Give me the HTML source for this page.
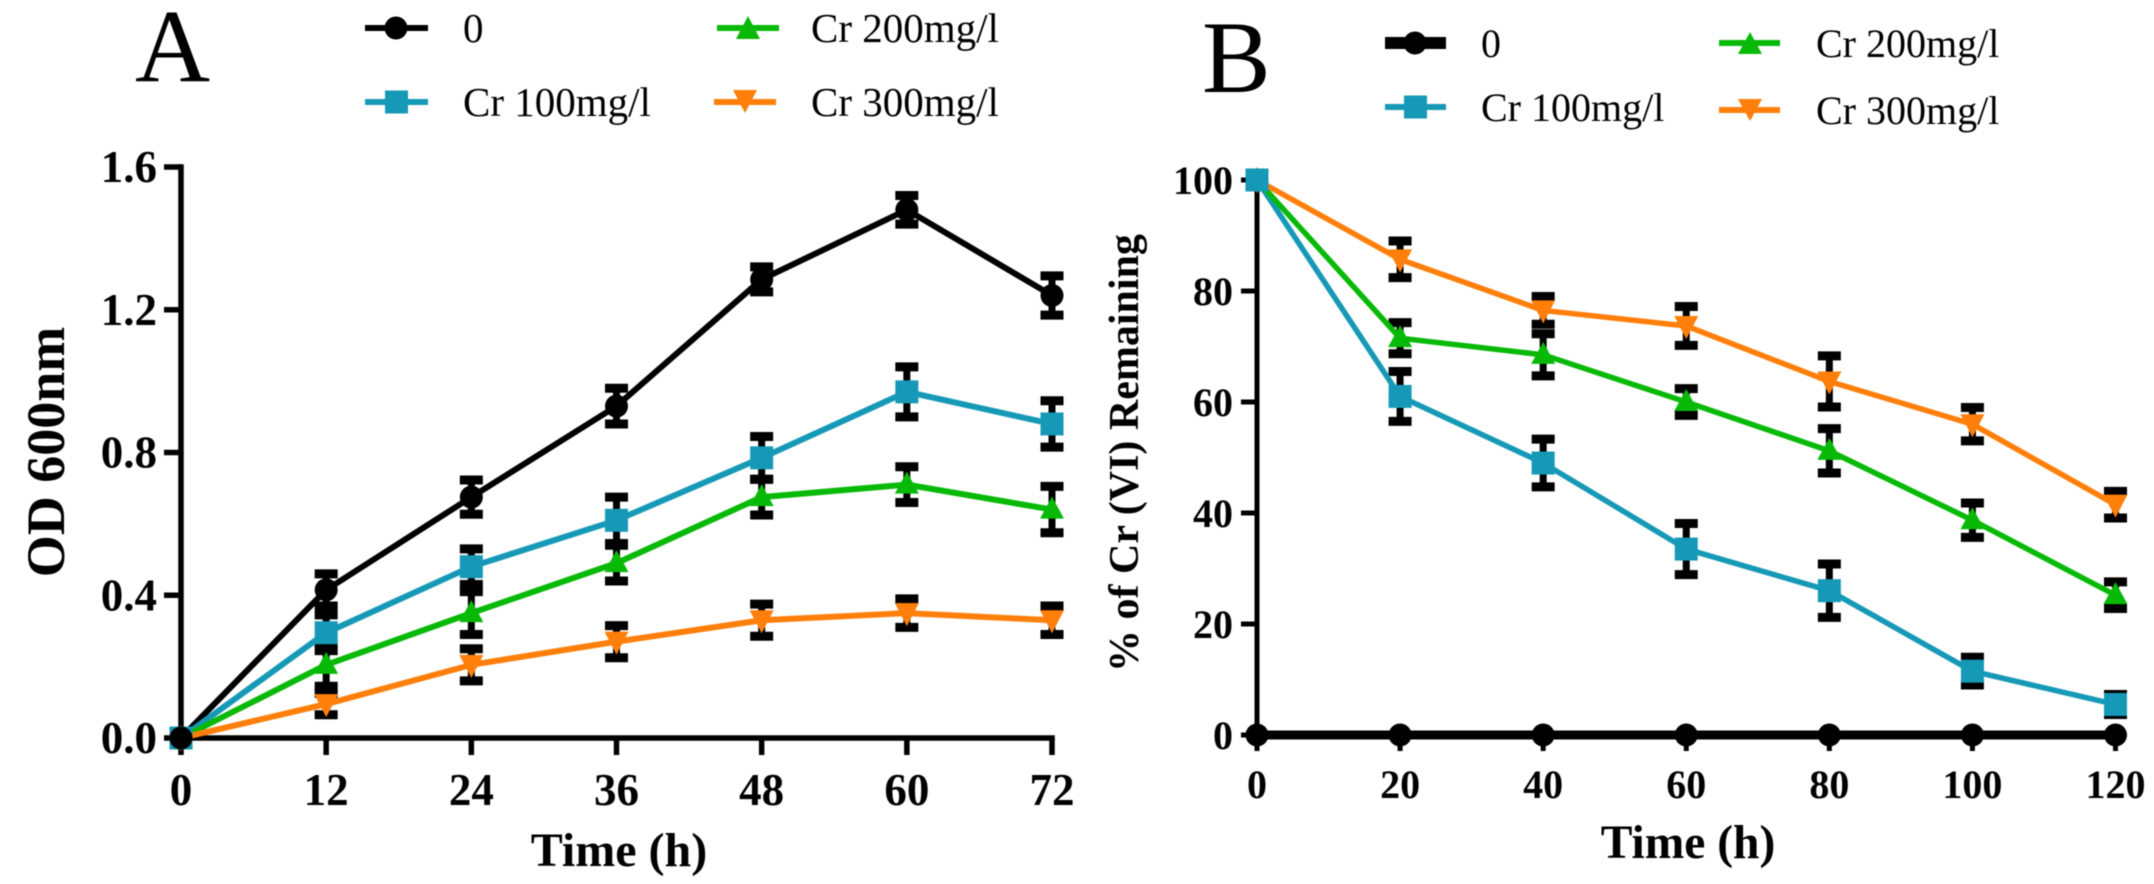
<!DOCTYPE html>
<html lang="en">
<head>
<meta charset="utf-8">
<title>Growth and Cr (VI) remaining charts</title>
<style>
html,body{margin:0;padding:0;background:#fff;width:2154px;height:884px;overflow:hidden}
svg{display:block;filter:blur(0.5px)}
text{font-family:"Liberation Serif",serif;fill:#000}
.tick{font-weight:bold}
.title{font-weight:bold}
</style>
</head>
<body>
<svg id="chart" xmlns="http://www.w3.org/2000/svg" width="2154" height="884" viewBox="0 0 2154 884">
<rect width="2154" height="884" fill="#fff"/>
<text x="135" y="81" font-size="104">A</text>
<text x="1202" y="92" font-size="103">B</text>

<text class="title" x="619" y="866" font-size="48" text-anchor="middle">Time (h)</text>
<text class="title" transform="translate(64,452) rotate(-90)" font-size="54" text-anchor="middle">OD 600nm</text>
<text class="title" x="1688" y="858" font-size="47.5" text-anchor="middle">Time (h)</text>
<text class="title" transform="translate(1138,453) rotate(-90)" font-size="42" text-anchor="middle">% of Cr (VI) Remaining</text>

<g>
  <g>
    <line x1="365" y1="28" x2="428" y2="28" stroke="#000" stroke-width="6"/>
    <circle cx="396" cy="28" r="11.5" fill="#000"/>
    <text x="463" y="42" font-size="41">0</text>
  </g>
  <g>
    <line x1="365" y1="102" x2="428" y2="102" stroke="#1699b6" stroke-width="6"/>
    <rect x="385" y="90.5" width="23" height="23" fill="#1699b6"/>
    <text x="463" y="116" font-size="41">Cr 100mg/l</text>
  </g>
  <g>
    <line x1="717" y1="28" x2="779" y2="28" stroke="#08b908" stroke-width="6"/>
    <polygon points="748,16 760,39 736,39" fill="#08b908"/>
    <text x="811" y="42" font-size="41">Cr 200mg/l</text>
  </g>
  <g>
    <line x1="714" y1="102" x2="776" y2="102" stroke="#ff7f0a" stroke-width="6"/>
    <polygon points="733,90 757,90 745,113" fill="#ff7f0a"/>
    <text x="811" y="116" font-size="41">Cr 300mg/l</text>
  </g>
</g>

<g>
  <g>
    <line x1="1385" y1="43" x2="1446" y2="43" stroke="#000" stroke-width="12"/>
    <circle cx="1415" cy="43" r="11.5" fill="#000"/>
    <text x="1481" y="57" font-size="40">0</text>
  </g>
  <g>
    <line x1="1385" y1="107" x2="1446" y2="107" stroke="#1699b6" stroke-width="6"/>
    <rect x="1404" y="95.5" width="23" height="23" fill="#1699b6"/>
    <text x="1481" y="121" font-size="40">Cr 100mg/l</text>
  </g>
  <g>
    <line x1="1719" y1="43" x2="1780" y2="43" stroke="#08b908" stroke-width="6"/>
    <polygon points="1750,32 1762,54 1738,54" fill="#08b908"/>
    <text x="1816" y="57" font-size="40">Cr 200mg/l</text>
  </g>
  <g>
    <line x1="1719" y1="110" x2="1780" y2="110" stroke="#ff7f0a" stroke-width="6"/>
    <polygon points="1738,99 1762,99 1750,121" fill="#ff7f0a"/>
    <text x="1816" y="124" font-size="40">Cr 300mg/l</text>
  </g>
</g>
</svg>

<script>
// Panel A data
const timeA = [0, 12, 24, 36, 48, 60, 72];
const xTicksA = ["0", "12", "24", "36", "48", "60", "72"];
const yTicksA = ["0.0", "0.4", "0.8", "1.2", "1.6"];
const odControl = [0, 0.415, 0.675, 0.93, 1.285, 1.48, 1.24];
const odControlErr = [0, 0.045, 0.048, 0.05, 0.035, 0.04, 0.055];
const odCr100 = [0, 0.295, 0.48, 0.61, 0.785, 0.97, 0.88];
const odCr100Err = [0, 0.05, 0.05, 0.065, 0.06, 0.07, 0.065];
const odCr200 = [0, 0.205, 0.35, 0.49, 0.675, 0.71, 0.64];
const odCr200Err = [0, 0.06, 0.06, 0.05, 0.05, 0.05, 0.065];
const odCr300 = [0, 0.095, 0.205, 0.27, 0.33, 0.35, 0.33];
const odCr300Err = [0, 0.03, 0.045, 0.045, 0.045, 0.04, 0.04];

// Panel B data
const timeB = [0, 20, 40, 60, 80, 100, 120];
const xTicksB = ["0", "20", "40", "60", "80", "100", "120"];
const yTicksB = ["0", "20", "40", "60", "80", "100"];
const remControl = [0, 0, 0, 0, 0, 0, 0];
const remControlErr = [0, 0, 0, 0, 0, 0, 0];
const remCr100 = [100, 61, 49, 33.5, 26, 11.5, 5.5];
const remCr100Err = [0, 4.5, 4.3, 4.6, 4.8, 2.5, 1.8];
const remCr200 = [100, 71.5, 68.5, 60, 51.2, 38.7, 25.2];
const remCr200Err = [0, 2.8, 3.8, 2.4, 4, 3.1, 2.4];
const remCr300 = [100, 85.7, 76.5, 73.7, 63.7, 56, 41.5];
const remCr300Err = [0, 3.3, 2.5, 3.5, 4.6, 3, 2.4];

const seriesNames = ["control", "cr-100", "cr-200", "cr-300"];
const seriesColors = ["#000000", "#1699b6", "#08b908", "#ff7f0a"];
const seriesShapes = ["circle", "square", "up", "down"];

const NS = "http://www.w3.org/2000/svg";
const svg = document.getElementById("chart");

function mk(parent, tag, attrs) {
  const el = document.createElementNS(NS, tag);
  for (const k in attrs) el.setAttribute(k, attrs[k]);
  parent.appendChild(el);
  return el;
}

function drawMarker(parent, shape, cx, cy, color, prefix) {
  let m;
  if (shape === "circle") {
    m = mk(parent, "circle", {cx: cx, cy: cy, r: 11.5, fill: color});
  } else if (shape === "square") {
    m = mk(parent, "rect", {x: cx - 11.5, y: cy - 11.5, width: 23, height: 23, fill: color});
  } else if (shape === "up") {
    m = mk(parent, "polygon", {points: (cx) + "," + (cy - 13) + " " + (cx + 12) + "," + (cy + 9) + " " + (cx - 12) + "," + (cy + 9), fill: color});
  } else {
    m = mk(parent, "polygon", {points: (cx - 12) + "," + (cy - 10) + " " + (cx + 12) + "," + (cy - 10) + " " + (cx) + "," + (cy + 13), fill: color});
  }
  
  
}

function drawPanel(cfg) {
  const g = mk(svg, "g", {});
  
  

  // axes
  const yAxis = mk(g, "line", {x1: cfg.x(cfg.xv[0]), y1: cfg.y(cfg.yMax) - cfg.aw / 2, x2: cfg.x(cfg.xv[0]), y2: cfg.y(0), stroke: "#000", "stroke-width": cfg.aw});
  
  
  const xAxis = mk(g, "line", {x1: cfg.x(cfg.xv[0]), y1: cfg.y(0), x2: cfg.x(cfg.xv[cfg.xv.length - 1]) + cfg.aw / 2, y2: cfg.y(0), stroke: "#000", "stroke-width": cfg.aw});
  
  

  cfg.yTicks.forEach(function (lab) {
    const py = cfg.y(parseFloat(lab));
    const t = mk(g, "line", {x1: cfg.x(cfg.xv[0]) - cfg.tl, y1: py, x2: cfg.x(cfg.xv[0]), y2: py, stroke: "#000", "stroke-width": cfg.aw});
    
    
    const tx = mk(g, "text", {x: cfg.yLabelX, y: py + cfg.yLabelDy, "font-size": cfg.fs, "text-anchor": "end", "class": "tick"});
    tx.textContent = lab;
    
    
  });
  cfg.xTicks.forEach(function (lab) {
    const px = cfg.x(parseFloat(lab));
    const t = mk(g, "line", {x1: px, y1: cfg.y(0), x2: px, y2: cfg.y(0) + cfg.tl, stroke: "#000", "stroke-width": cfg.aw});
    
    
    const tx = mk(g, "text", {x: px, y: cfg.xLabelY, "font-size": cfg.fs, "text-anchor": "middle", "class": "tick"});
    tx.textContent = lab;
    
    
  });

  // error bars
  cfg.series.forEach(function (vals, s) {
    vals.forEach(function (v, i) {
      const e = cfg.errs[s][i];
      if (!e) return;
      const px = cfg.x(cfg.xv[i]);
      const top = cfg.y(v + e);
      const bot = cfg.y(v - e);
      const bar = mk(g, "path", {d: "M" + px + " " + top + "V" + bot, stroke: "#000", "stroke-width": 7, fill: "none"});
      
      
      const caps = mk(g, "path", {d: "M" + (px - 11.5) + " " + top + "H" + (px + 11.5) + "M" + (px - 11.5) + " " + bot + "H" + (px + 11.5), stroke: "#000", "stroke-width": 9, fill: "none"});
      
      
    });
  });

  // lines
  cfg.series.forEach(function (vals, s) {
    const pts = vals.map(function (v, i) { return cfg.x(cfg.xv[i]) + "," + cfg.y(v); }).join(" ");
    const ln = mk(g, "polyline", {points: pts, fill: "none", stroke: seriesColors[s], "stroke-width": cfg.lw[s], "stroke-linejoin": "round"});
    
    
  });

  // markers (later series underneath)
  for (let s = cfg.series.length - 1; s >= 0; s--) {
    const idx = cfg.markerOrder[s];
    cfg.series[idx].forEach(function (v, i) {
      drawMarker(g, seriesShapes[idx], cfg.x(cfg.xv[i]), cfg.y(v), seriesColors[idx], cfg.id + '-' + seriesNames[idx]);
    });
  }
}

drawPanel({
  id: "panel-a",
  xv: timeA,
  yMax: 1.6,
  xTicks: xTicksA,
  yTicks: yTicksA,
  series: [odControl, odCr100, odCr200, odCr300],
  errs: [odControlErr, odCr100Err, odCr200Err, odCr300Err],
  x: function (t) { return 181 + t * (871 / 72); },
  y: function (v) { return 738 - v * (571 / 1.6); },
  aw: 5.5, tl: 17, fs: 45, yLabelX: 157, yLabelDy: 15, xLabelY: 805,
  lw: [6, 6, 6, 6],
  markerOrder: [0, 1, 2, 3]
});

drawPanel({
  id: "panel-b",
  xv: timeB,
  yMax: 100,
  xTicks: xTicksB,
  yTicks: yTicksB,
  series: [remControl, remCr100, remCr200, remCr300],
  errs: [remControlErr, remCr100Err, remCr200Err, remCr300Err],
  x: function (t) { return 1257 + t * (858.5 / 120); },
  y: function (v) { return 735 - v * (555 / 100); },
  aw: 5, tl: 16, fs: 40, yLabelX: 1233, yLabelDy: 14, xLabelY: 798,
  lw: [9, 5.5, 5.5, 5.5],
  markerOrder: [1, 2, 3, 0]
});
</script>
</body>
</html>
